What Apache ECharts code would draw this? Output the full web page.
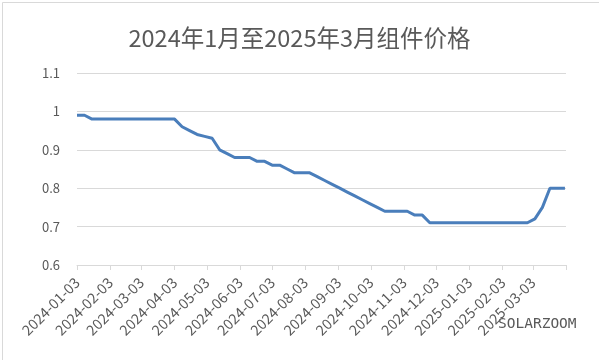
<!DOCTYPE html>
<html>
<head>
<meta charset="utf-8">
<script src="https://cdn.jsdelivr.net/npm/echarts@6/dist/echarts.min.js"></script>
<style>
html,body{margin:0;padding:0;background:#fff;}
#c{width:599px;height:360px;}
</style>
</head>
<body>
<div id="c"></div>
<script>
const titleText = '2024年1月至2025年3月组件价格';
const dates = [
 '2024-01-03','2024-01-10','2024-01-17','2024-01-24','2024-01-31',
 '2024-02-07','2024-02-14','2024-02-21','2024-02-28',
 '2024-03-06','2024-03-13','2024-03-20','2024-03-27',
 '2024-04-03','2024-04-10','2024-04-17','2024-04-24',
 '2024-05-01','2024-05-08','2024-05-15','2024-05-22','2024-05-29',
 '2024-06-05','2024-06-12','2024-06-19','2024-06-26',
 '2024-07-03','2024-07-10','2024-07-17','2024-07-24','2024-07-31',
 '2024-08-07','2024-08-14','2024-08-21','2024-08-28',
 '2024-09-04','2024-09-11','2024-09-18','2024-09-25',
 '2024-10-02','2024-10-09','2024-10-16','2024-10-23','2024-10-30',
 '2024-11-06','2024-11-13','2024-11-20','2024-11-27',
 '2024-12-04','2024-12-11','2024-12-18','2024-12-25',
 '2025-01-01','2025-01-08','2025-01-15','2025-01-22','2025-01-29',
 '2025-02-05','2025-02-12','2025-02-19','2025-02-26',
 '2025-03-05','2025-03-12','2025-03-19','2025-03-26','2025-04-02'
];
const prices = [
 0.99,0.99,0.98,0.98,0.98,
 0.98,0.98,0.98,0.98,
 0.98,0.98,0.98,0.98,
 0.98,0.96,0.95,0.94,
 0.935,0.93,0.90,0.89,0.88,
 0.88,0.88,0.87,0.87,
 0.86,0.86,0.85,0.84,0.84,
 0.84,0.83,0.82,0.81,
 0.80,0.79,0.78,0.77,
 0.76,0.75,0.74,0.74,0.74,
 0.74,0.73,0.73,0.71,
 0.71,0.71,0.71,0.71,
 0.71,0.71,0.71,0.71,0.71,
 0.71,0.71,0.71,0.71,
 0.72,0.75,0.80,0.80,0.80
];
const tickLabels = [
 '2024-01-03','2024-02-03','2024-03-03','2024-04-03','2024-05-03','2024-06-03',
 '2024-07-03','2024-08-03','2024-09-03','2024-10-03','2024-11-03','2024-12-03',
 '2025-01-03','2025-02-03','2025-03-03'
];
const axisEnd = '2025-04-03';
const yTicks = [0.6, 0.7, 0.8, 0.9, 1.0, 1.1];
const watermark = 'SOLARZOOM';

function ts(s){const p=s.split('-').map(Number);return Date.UTC(p[0],p[1]-1,p[2]);}
const labelVals = tickLabels.map(ts);
const tickVals = labelVals.concat([ts(axisEnd)]);
const labelMap = {};
tickLabels.forEach((s,i)=>{labelMap[labelVals[i]]=s;});
const seriesData = dates.map((d,i)=>[ts(d), prices[i]]);

const chart = echarts.init(document.getElementById('c'), null, {renderer:'canvas'});
const grey = '#595959';
const lineGrey = '#d9d9d9';
chart.setOption({
  animation:false,
  backgroundColor:'#fff',
  title:{
    text:titleText, left:'center', top:21,
    textStyle:{fontFamily:'"Noto Sans CJK SC"', fontSize:23.5, fontWeight:'normal', color:grey}
  },
  grid:{left:77, right:33, top:73, bottom:95, containLabel:false},
  xAxis:{
    type:'value',
    min:ts(tickLabels[0]), max:ts(axisEnd),
    axisLine:{show:true, lineStyle:{color:lineGrey, width:1}},
    axisTick:{show:true, length:5, lineStyle:{color:lineGrey}, customValues:tickVals},
    axisLabel:{
      customValues:labelVals, rotate:45, margin:15, color:grey,
      fontFamily:'"Noto Sans CJK SC"', fontSize:14.5,
      formatter:function(v){return labelMap[v]||'';}
    },
    splitLine:{show:false}
  },
  yAxis:{
    type:'value', min:yTicks[0], max:yTicks[yTicks.length-1], interval:0.1,
    axisLine:{show:false}, axisTick:{show:false},
    axisLabel:{color:grey, fontFamily:'"Noto Sans CJK SC"', fontSize:13, margin:17,
      formatter:function(v){return String(Math.round(v*10)/10);}},
    splitLine:{lineStyle:{color:lineGrey, width:1}}
  },
  series:[{
    type:'line', data:seriesData, showSymbol:false, symbol:'none',
    lineStyle:{color:'#4a7ebb', width:3}, itemStyle:{color:'#4a7ebb'}
  }],
  graphic:[
    {type:'rect', left:0, top:0, shape:{x:0.5,y:0.5,width:597,height:358},
     style:{fill:'none', stroke:lineGrey, lineWidth:1}, silent:true},
    {type:'text', left:498, top:317, style:{text:watermark, fill:grey,
     font:'14.5px "DejaVu Sans Mono"'}, z:10}
  ]
});
</script>
</body>
</html>
